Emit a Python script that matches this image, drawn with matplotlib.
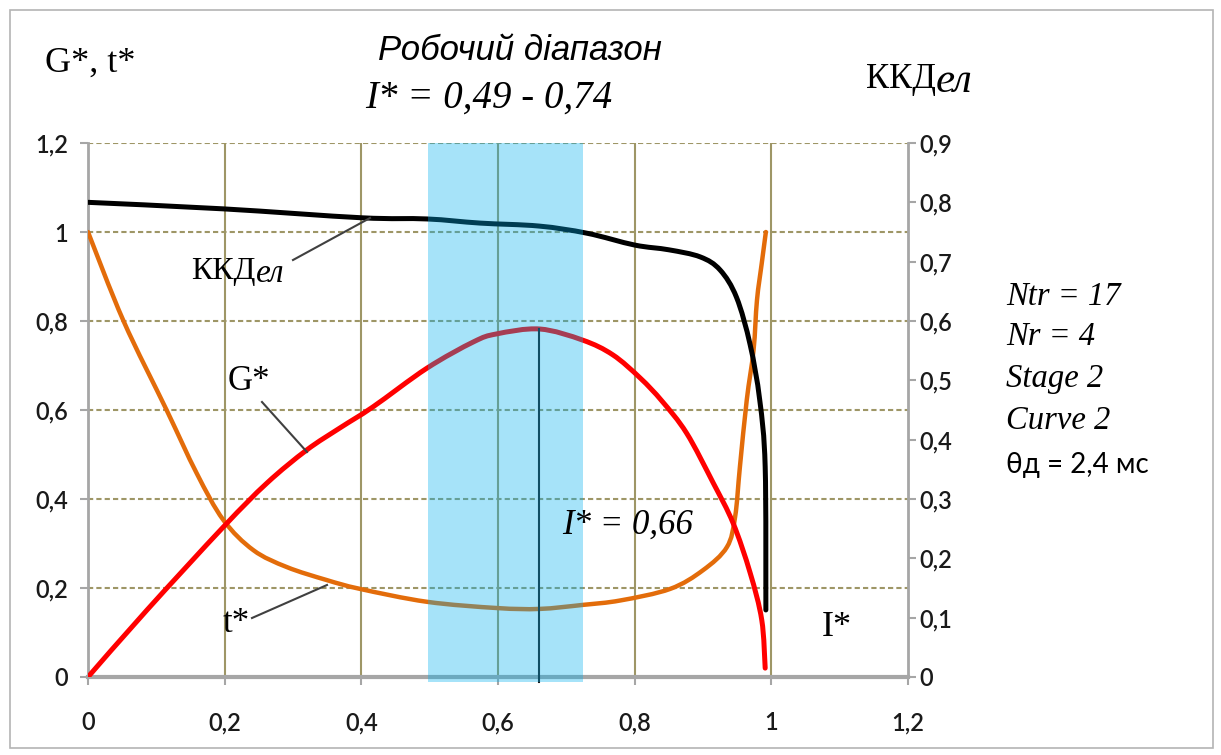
import matplotlib
matplotlib.use("Agg")
import matplotlib.pyplot as plt
from matplotlib.patches import Rectangle, PathPatch
from matplotlib.lines import Line2D
from matplotlib.path import Path
from matplotlib.ticker import FixedLocator, FuncFormatter

# Relative current I* for each curve
i_g = [0.0, 0.086, 0.198, 0.262, 0.320, 0.369, 0.417, 0.496, 0.564, 0.598,
       0.661, 0.724, 0.768, 0.808, 0.840, 0.876, 0.915, 0.944, 0.969,
       0.986, 0.991]
g_vals = [0.0, 0.15, 0.337, 0.436, 0.51, 0.56, 0.607, 0.694, 0.753, 0.771,
          0.782, 0.757, 0.724, 0.672, 0.62, 0.548, 0.436, 0.346, 0.234,
          0.128, 0.02]

i_t = [0.0, 0.052, 0.115, 0.159, 0.198, 0.242, 0.291, 0.349, 0.398,
       0.496, 0.598, 0.661, 0.724, 0.779, 0.852, 0.900, 0.935, 0.947,
       0.954, 0.964, 0.974, 0.979, 0.986, 0.992]
t_vals = [1.0, 0.80, 0.60, 0.458, 0.353, 0.285, 0.247, 0.218, 0.198,
          0.169, 0.155, 0.153, 0.162, 0.172, 0.198, 0.240, 0.292, 0.36,
          0.472, 0.622, 0.735, 0.847, 0.93, 1.0]

i_eff = [0.0, 0.198, 0.4, 0.496, 0.574, 0.66, 0.73, 0.8, 0.85, 0.896,
         0.925, 0.949, 0.969, 0.983, 0.991, 0.992]
eff_vals = [0.800, 0.789, 0.774, 0.772, 0.765, 0.760, 0.748, 0.728,
            0.72, 0.708, 0.686, 0.640, 0.56, 0.467, 0.354, 0.113]

x_ticks = [0, 0.2, 0.4, 0.6, 0.8, 1.0, 1.2]
left_ticks = [0, 0.2, 0.4, 0.6, 0.8, 1.0, 1.2]
right_ticks = [0, 0.1, 0.2, 0.3, 0.4, 0.5, 0.6, 0.7, 0.8, 0.9]

work_range = (0.497, 0.725)
optimum_i = 0.66
optimum_g = 0.782

W, H = 1221, 755
fig = plt.figure(figsize=(W / 100, H / 100), dpi=100)


def fx(x):
    return x / W


def fy(y):
    return 1 - y / H


def smooth_line(ax, xs, ys, **kw):
    """Draw a smoothed (Catmull-Rom style Bezier) line through the points."""
    pts = list(zip(xs, ys))
    n = len(pts)
    verts = [pts[0]]
    codes = [Path.MOVETO]
    for i in range(n - 1):
        p0 = pts[i - 1] if i > 0 else pts[i]
        p1, p2 = pts[i], pts[i + 1]
        p3 = pts[i + 2] if i + 2 < n else pts[i + 1]
        c1 = (p1[0] + (p2[0] - p0[0]) / 6, p1[1] + (p2[1] - p0[1]) / 6)
        c2 = (p2[0] - (p3[0] - p1[0]) / 6, p2[1] - (p3[1] - p1[1]) / 6)
        verts += [c1, c2, p2]
        codes += [Path.CURVE4] * 3
    patch = PathPatch(Path(verts, codes), fill=False, capstyle="round",
                      joinstyle="round", **kw)
    ax.add_patch(patch)
    return patch


ax = fig.add_axes([fx(88), fy(677), fx(908) - fx(88), fy(143) - fy(677)])
ax2 = ax.twinx()

grid_c = "#9e9666"
spine_c = "#a6a6a6"
serif = ["Liberation Serif", "DejaVu Serif"]

ax.set_xlim(0, 1.2)
ax.set_ylim(0, 1.2)
ax2.set_ylim(0, 0.9)

comma = FuncFormatter(lambda v, p: f"{v:g}".replace(".", ","))
ax.xaxis.set_major_locator(FixedLocator(x_ticks))
ax.yaxis.set_major_locator(FixedLocator(left_ticks))
ax2.yaxis.set_major_locator(FixedLocator(right_ticks))
for a in (ax.xaxis, ax.yaxis, ax2.yaxis):
    a.set_major_formatter(comma)

# grid
for xv in x_ticks[1:-1]:
    ax.axvline(xv, color=grid_c, lw=1.5, zorder=1)
for yv in left_ticks[1:]:
    ax.axhline(yv, color=grid_c, lw=1.5, ls=(0, (2.5, 1.5)), zorder=1)

for a in (ax, ax2):
    for s in a.spines.values():
        s.set_color(spine_c)
    a.spines["top"].set_visible(False)
ax.spines["left"].set_linewidth(2)
ax.spines["bottom"].set_linewidth(3)
ax2.spines["right"].set_linewidth(2)
ax2.spines["left"].set_visible(False)
ax2.spines["bottom"].set_visible(False)

ax.tick_params(axis="y", direction="out", length=6, width=1.5, color=spine_c, pad=8.5)
ax.tick_params(axis="x", direction="out", length=6, width=1.5, color=spine_c, pad=18.5)
ax2.tick_params(axis="y", direction="out", length=6, width=1.5, color=spine_c, pad=2.5)
for lab in ax.get_xticklabels() + ax.get_yticklabels() + ax2.get_yticklabels():
    lab.set_fontfamily("Lato")
    lab.set_fontsize(17)
    lab.set_fontweight("semibold")
    lab.set_color("#1a1a1a")

# curves
smooth_line(ax, i_t, t_vals, edgecolor="#e36c0a", lw=3.2, zorder=3)
smooth_line(ax, i_g, g_vals, edgecolor="#ff0000", lw=3.6, zorder=4)
ax.plot([optimum_i, optimum_i], [-0.012, optimum_g], color="#1a1a1a", lw=1.5,
        zorder=5, clip_on=False)
smooth_line(ax2, i_eff, eff_vals, edgecolor="#000000", lw=3.6, zorder=3)

# working range band
ax2.axvspan(work_range[0], work_range[1], ymin=-0.01, ymax=1.0,
            color=(0 / 255, 176 / 255, 240 / 255), alpha=0.35, lw=0,
            zorder=6, clip_on=False)

# leader lines for curve labels
for (x0, y0), (x1, y1) in [((293, 260), (370, 218)),
                           ((262, 402), (307, 452)),
                           ((252, 618), (327, 585))]:
    fig.add_artist(Line2D([fx(x0), fx(x1)], [fy(y0), fy(y1)],
                          color="#404040", lw=1.5))

# texts
fig.text(fx(45), fy(63), "G*, t*", family=serif, size=26, va="center", ha="left")
fig.text(fx(520), fy(50), "Робочий діапазон", family="Liberation Sans",
         style="italic", size=25, va="center", ha="center")
fig.text(fx(489), fy(98), "I* = 0,49 - 0,74", family=serif, style="italic",
         size=28, va="center", ha="center")
fig.text(fx(936), fy(80), "ККД", family=serif, size=25, va="center", ha="right")
fig.text(fx(936), fy(82), "ел", family=serif, style="italic", size=31,
         va="center", ha="left")
fig.text(fx(256), fy(272), "ККД", family=serif, size=23, va="center", ha="right")
fig.text(fx(256), fy(274), "ел", family=serif, style="italic", size=24,
         va="center", ha="left")
fig.text(fx(249), fy(382), "G*", family=serif, size=25, va="center", ha="center")
fig.text(fx(236), fy(624), "t*", family=serif, size=25, va="center", ha="center")
fig.text(fx(562), fy(525), "I* = 0,66", family=serif, style="italic", size=25,
         va="center", ha="left")
fig.text(fx(822), fy(628), "I*", family=serif, size=26, va="center", ha="left")

for yy, s in [(297, "Ntr = 17"), (337, "Nr = 4"), (379, "Stage 2"), (421, "Curve 2")]:
    fig.text(fx(1006), fy(yy), s, family=serif, style="italic", size=23.5,
             va="center", ha="left")
fig.text(fx(1006), fy(465), "θд = 2,4 мс", family="Lato", size=20,
         va="center", ha="left")

# chart frame
fig.add_artist(Rectangle((fx(10), fy(748)), fx(1213) - fx(10), fy(10) - fy(748),
                         fill=False, edgecolor="#b4b4b4", lw=1.2))

fig.savefig("out.png", dpi=100)
